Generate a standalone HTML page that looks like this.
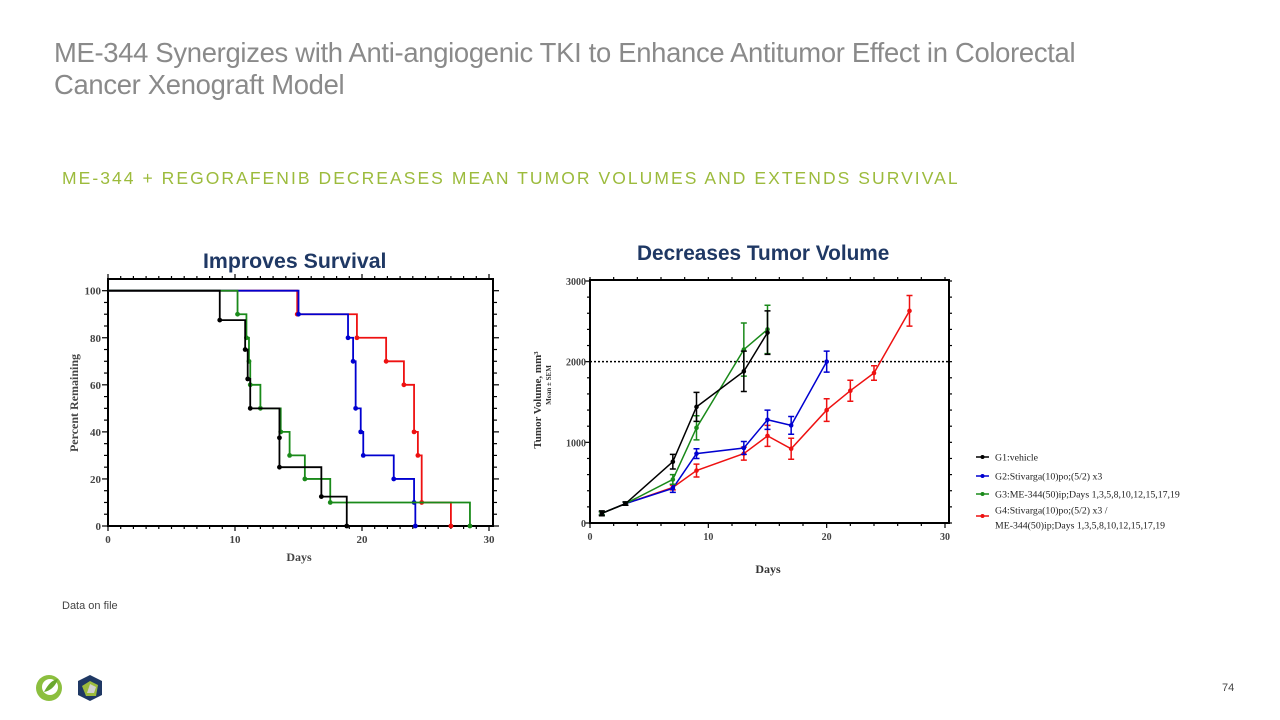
<!DOCTYPE html>
<html><head><meta charset="utf-8"><style>
body{margin:0;width:1280px;height:720px;background:#fff;overflow:hidden;position:relative;font-family:"Liberation Sans",sans-serif}
.abs{position:absolute}
</style></head><body>
<div class="abs" style="left:54px;top:37px;font-size:27.4px;color:#8a8a8a;line-height:32px;letter-spacing:-0.3px;white-space:nowrap">ME-344 Synergizes with Anti-angiogenic TKI to Enhance Antitumor Effect in Colorectal<br>Cancer Xenograft Model</div>
<div class="abs" style="left:62px;top:168px;font-size:17.5px;color:#9cbb3c;letter-spacing:2.05px;white-space:nowrap">ME-344 + REGORAFENIB DECREASES MEAN TUMOR VOLUMES AND EXTENDS SURVIVAL</div>
<div class="abs" style="left:203px;top:249px;font-size:21.3px;font-weight:bold;color:#1f3864;white-space:nowrap">Improves Survival</div>
<div class="abs" style="left:637px;top:242px;font-size:20.8px;font-weight:bold;color:#1f3864;white-space:nowrap">Decreases Tumor Volume</div>
<div class="abs" style="left:62px;top:600px;font-size:11px;color:#444">Data on file</div>
<div class="abs" style="left:1222px;top:682px;font-size:11px;color:#444">74</div>
<svg class="abs" style="left:30px;top:670px" width="80" height="36">
<circle cx="19" cy="18" r="13" fill="#8cbf3f"/><circle cx="20" cy="17" r="8" fill="#fff"/><path d="M14 22 Q20 10 28 9 Q24 20 14 22Z" fill="#6aa82e"/>
<polygon points="60,5 72,11 72,25 60,31 48,25 48,11" fill="#1f3864"/><polygon points="60,11 68,15 66,26 56,26 52,16" fill="#9cbb3c"/><polygon points="60,14 66,17 64,23 57,23" fill="#d0d0d0"/>
</svg>
<svg class="abs" id="surv" style="left:0;top:0" width="1280" height="720"></svg>
<script>
const survDays=[[0,8.8,10.8,11,11.2,13.5,13.5,16.8,18.8],[0,10.2,10.9,11.1,11.2,12,13.6,14.3,15.5,17.5,28.5],[0,15,18.9,19.3,19.5,19.9,20.1,22.5,24.1,24.2],[0,14.9,19.6,21.9,23.3,24.1,24.4,24.7,27]];
const survPct=[[100,87.5,75,62.5,50,37.5,25,12.5,0],[100,90,80,70,60,50,40,30,20,10,0],[100,90,80,70,50,40,30,20,10,0],[100,90,80,70,60,40,30,10,0]];
const survEnd=[18.8,28.5,24.2,27];
const colors=['#000','#1a8a1a','#0000d0','#ee1111'];
const survOrder=[3,2,1,0];
const survXTicks=[0,10,20,30];
const survYTicks=[0,20,40,60,80,100];

const tDays=[[1,3,7,9,13,15],[1,3,7,9,13,15,17,20],[1,3,7,9,13,15],[1,3,7,9,13,15,17,20,22,24,27]];
const tVol=[[120,240,760,1440,1880,2360],[120,240,430,860,930,1280,1210,2000],[120,240,540,1180,2150,2400],[120,240,440,650,860,1080,920,1400,1640,1860,2630]];
const tErr=[[30,20,90,180,250,270],[20,20,50,60,80,120,110,130],[20,20,60,150,330,300],[20,20,30,80,80,130,130,140,130,90,190]];
const tColors=['#000','#0000d0','#1a8a1a','#ee1111'];
const tXTicks=[0,10,20,30];
const tYTicks=[0,1000,2000,3000];
const legendLabels=['G1:vehicle','G2:Stivarga(10)po;(5/2) x3','G3:ME-344(50)ip;Days 1,3,5,8,10,12,15,17,19','G4:Stivarga(10)po;(5/2) x3 /','ME-344(50)ip;Days 1,3,5,8,10,12,15,17,19'];

const svg=document.getElementById('surv');const NS='http://www.w3.org/2000/svg';
function mk(t,a,txt){const e=document.createElementNS(NS,t);for(const k in a)e.setAttribute(k,a[k]);if(txt!==undefined)e.textContent=txt;svg.appendChild(e);return e;}
const serif='"Liberation Serif",serif';
const sx=d=>108+d*(489-108)/30, sy=p=>526-p*(526-290.7)/100;
let f=mk('rect',{x:108,y:279,width:385,height:247,fill:'none',stroke:'#000','stroke-width':2});

for(let d=0;d<=30;d++){mk('line',{x1:sx(d),x2:sx(d),y1:526,y2:d%10?529:531,stroke:'#000','stroke-width':1.2});mk('line',{x1:sx(d),x2:sx(d),y1:279,y2:d%10?276:274,stroke:'#000','stroke-width':1.2});}
for(let p=0;p<=100;p+=5){mk('line',{x1:108,x2:p%20?104:102,y1:sy(p),y2:sy(p),stroke:'#000','stroke-width':1.2});mk('line',{x1:493,x2:p%20?497:499,y1:sy(p),y2:sy(p),stroke:'#000','stroke-width':1.2});}
survXTicks.forEach(v=>{const t=mk('text',{x:sx(v),y:543,'text-anchor':'middle','font-family':serif,'font-size':11,'font-weight':'bold',fill:'#444'},v);});
survYTicks.forEach(v=>{const t=mk('text',{x:101,y:sy(v)+4,'text-anchor':'end','font-family':serif,'font-size':11,'font-weight':'bold',fill:'#444'},v);});
let t=mk('text',{x:299,y:561,'text-anchor':'middle','font-family':serif,'font-size':12,'font-weight':'bold',fill:'#444'},'Days');
t=mk('text',{x:78,y:403,'text-anchor':'middle','font-family':serif,'font-size':12,'font-weight':'bold',fill:'#444',transform:'rotate(-90 78 403)'},'Percent Remaining');
survOrder.forEach(i=>{const D=survDays[i],P=survPct[i];let d='M'+sx(D[0])+' '+sy(P[0]);
for(let k=1;k<D.length;k++){d+=' H'+sx(D[k])+' V'+sy(P[k]);}
d+=' H'+sx(survEnd[i]);
const p=mk('path',{d:d,fill:'none',stroke:colors[i],'stroke-width':1.8});
for(let k=1;k<D.length;k++){const m=mk('circle',{cx:sx(D[k]),cy:sy(P[k]),r:2.4,fill:colors[i]});}});
const tx=d=>590+d*(945-590)/30, ty=v=>523-v*(523-281)/3000;
f=mk('rect',{x:590,y:280,width:359,height:243,fill:'none',stroke:'#000','stroke-width':2});
for(let d=0;d<=30;d+=2){mk('line',{x1:tx(d),x2:tx(d),y1:523,y2:d%10?526:528,stroke:'#000','stroke-width':1.2});mk('line',{x1:tx(d),x2:tx(d),y1:280,y2:277,stroke:'#000','stroke-width':1.2});}
for(let v=0;v<=3000;v+=200){mk('line',{x1:590,x2:v%1000?587:585,y1:ty(v),y2:ty(v),stroke:'#000','stroke-width':1.2});mk('line',{x1:949,x2:952,y1:ty(v),y2:ty(v),stroke:'#000','stroke-width':1.2});}
tXTicks.forEach(v=>{const e=mk('text',{x:tx(v),y:540,'text-anchor':'middle','font-family':serif,'font-size':10,'font-weight':'bold',fill:'#444'},v);});
tYTicks.forEach(v=>{const e=mk('text',{x:586,y:ty(v)+4,'text-anchor':'end','font-family':serif,'font-size':10,'font-weight':'bold',fill:'#444'},v);});
t=mk('text',{x:768,y:573,'text-anchor':'middle','font-family':serif,'font-size':12,'font-weight':'bold',fill:'#333'},'Days');
t=mk('text',{x:541,y:400,'text-anchor':'middle','font-family':serif,'font-size':11,'font-weight':'bold',fill:'#333',transform:'rotate(-90 541 400)'},'Tumor Volume, mm³');
t=mk('text',{x:551,y:385,'text-anchor':'middle','font-family':serif,'font-size':7,'font-weight':'bold',fill:'#333',transform:'rotate(-90 551 385)'},'Mean ± SEM');
t=mk('line',{x1:590,x2:949,y1:ty(2000),y2:ty(2000),stroke:'#000','stroke-width':1.5,'stroke-dasharray':'2 2'});
[3,1,2,0].forEach(i=>{const D=tDays[i],V=tVol[i],E=tErr[i];
const pl=mk('polyline',{points:D.map((d,k)=>tx(d)+','+ty(V[k])).join(' '),fill:'none',stroke:tColors[i],'stroke-width':1.5});
D.forEach((d,k)=>{const x=tx(d),y1=ty(V[k]+E[k]),y2=ty(V[k]-E[k]);
const g=mk('path',{d:`M${x} ${y1}V${y2}M${x-3} ${y1}H${x+3}M${x-3} ${y2}H${x+3}`,stroke:tColors[i],'stroke-width':1.5,fill:'none'});
const m=mk('circle',{cx:x,cy:ty(V[k]),r:2.3,fill:tColors[i]});});});
const legY=[457,476,494,516];
legY.forEach((y,i)=>{const l=mk('line',{x1:976,x2:989,y1:y,y2:y,stroke:tColors[i],'stroke-width':1.5});mk('circle',{cx:982.5,cy:y,r:2,fill:tColors[i]});});
[[457,0],[476,1],[494,2],[510,3],[525,4]].forEach(([y,i])=>{const e=mk('text',{x:995,y:y+3.5,'font-family':serif,'font-size':9.8,fill:'#222'},legendLabels[i]);});
</script>
</body></html>
